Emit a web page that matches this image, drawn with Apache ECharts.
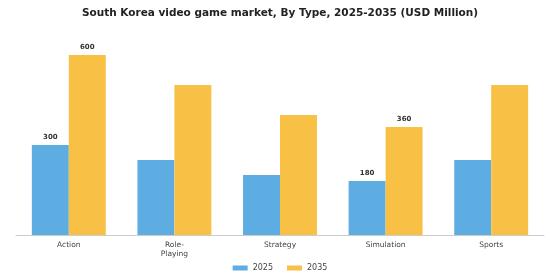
<!DOCTYPE html>
<html>
<head>
<meta charset="utf-8">
<script src="https://cdn.jsdelivr.net/npm/echarts@6/dist/echarts.min.js"></script>
<style>
html, body { margin: 0; padding: 0; background: #fff; }
#chart { width: 560px; height: 280px; }
</style>
</head>
<body>
<div id="chart"></div>
<script>
var categories = ['Action', 'Role-\nPlaying', 'Strategy', 'Simulation', 'Sports'];
var values2025 = [300, 250, 200, 180, 250];
var values2035 = [600, 500, 400, 360, 500];
// only some bars carry a value label in the original
var labelled2025 = [true, false, false, true, false];
var labelled2035 = [true, false, false, true, false];

var labelStyle = {
    show: true,
    position: 'top',
    distance: 4,
    fontSize: 7,
    fontWeight: 'bold',
    color: '#333',
    fontFamily: 'DejaVu Sans'
};

function toData(values, flags) {
    return values.map(function (v, i) {
        return { value: v, label: { show: flags[i] } };
    });
}

var chart = echarts.init(document.getElementById('chart'));
chart.setOption({
    animation: false,
    textStyle: { fontFamily: 'DejaVu Sans' },
    title: {
        text: 'South Korea video game market, By Type, 2025-2035 (USD Million)',
        left: 'center',
        top: 3,
        textStyle: { fontSize: 10.5, fontWeight: 'bold', color: '#222', fontFamily: 'DejaVu Sans' }
    },
    color: ['#5DADE2', '#F8C146'],
    legend: {
        data: ['2025', '2035'],
        bottom: 3,
        left: 'center',
        icon: 'rect',
        itemWidth: 15,
        itemHeight: 5,
        itemGap: 14,
        textStyle: { fontSize: 8, color: '#444' }
    },
    grid: { left: 16, right: 16, top: 55, bottom: 45 },
    xAxis: {
        type: 'category',
        data: categories,
        axisLine: { lineStyle: { color: '#ccc' } },
        axisTick: { alignWithLabel: true, length: 3, lineStyle: { color: '#aaa' } },
        axisLabel: { fontSize: 7.5, color: '#444', margin: 6, lineHeight: 9 }
    },
    yAxis: {
        type: 'value',
        min: 0,
        max: 600,
        show: false,
        splitLine: { show: false }
    },
    series: [
        {
            name: '2025',
            type: 'bar',
            barGap: '0%',
            barCategoryGap: '30%',
            data: toData(values2025, labelled2025),
            label: labelStyle
        },
        {
            name: '2035',
            type: 'bar',
            barGap: '0%',
            barCategoryGap: '30%',
            data: toData(values2035, labelled2035),
            label: labelStyle
        }
    ]
});
</script>
</body>
</html>
